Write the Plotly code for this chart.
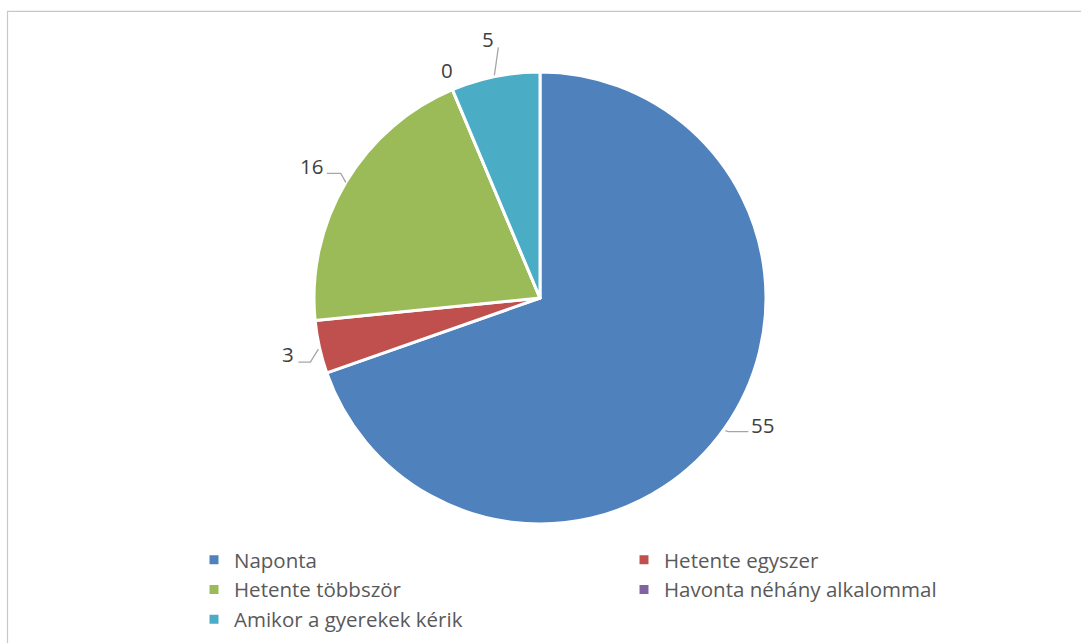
import numpy as np
import plotly.graph_objects as go

# Survey answers and counts
categories = ["Naponta", "Hetente egyszer", "Hetente többször",
              "Havonta néhány alkalommal", "Amikor a gyerekek kérik"]
counts = [55, 3, 16, 0, 5]
colors = ["#4F81BD", "#C0504D", "#9BBB59", "#8064A2", "#4BACC6"]

W, H = 1081, 643
CX, CY, R = 540, 298, 226  # pie centre and radius in pixels

# label placement relative to the slice edge point (pixels, y down)
label_offsets = [(38, -4), (-31, 7), (-34, -16), (-5, -20), (-7, -37)]
leader_paths = [
    [(1, 2), (4, 3), (24, 3)],
    [(-1, 2), (-9, 15), (-21, 15)],
    [(0, 0), (-5, -9), (-19, -9)],
    [],
    [(-1, -1), (3, -29)],
]


def px(x):
    return x / W


def py(y):
    return 1 - y / H


fig = go.Figure(go.Pie(
    labels=categories,
    values=counts,
    sort=False,
    direction="clockwise",
    rotation=0,
    marker=dict(colors=colors, line=dict(color="white", width=3)),
    textinfo="none",
    hoverinfo="label+value",
    showlegend=True,
    domain=dict(x=[px(CX - R), px(CX + R)], y=[py(CY + R), py(CY - R)]),
))

# data labels with leader lines, placed at each slice's middle angle
vals = np.array(counts, dtype=float)
ends = np.cumsum(vals) / vals.sum() * 2 * np.pi
starts = ends - vals / vals.sum() * 2 * np.pi
mids = (starts + ends) / 2

shapes = [dict(type="rect", xref="paper", yref="paper",
               x0=px(7.5), x1=1.01, y0=-0.01, y1=py(11.3),
               line=dict(color="#C8C8C8", width=1.2), fillcolor="rgba(0,0,0,0)")]
annotations = []
for v, a, off, path in zip(counts, mids, label_offsets, leader_paths):
    ex = CX + R * np.sin(a)
    ey = CY - R * np.cos(a)
    annotations.append(dict(
        x=px(ex + off[0]), y=py(ey + off[1]), xref="paper", yref="paper",
        text=str(v), showarrow=False, xanchor="center", yanchor="middle",
        font=dict(family="Open Sans", size=20.5, color="#404040"),
    ))
    if path:
        d = "M " + " L ".join(f"{px(ex + dx):.5f},{py(ey + dy):.5f}" for dx, dy in path)
        shapes.append(dict(type="path", xref="paper", yref="paper", path=d,
                           line=dict(color="#A6A6A6", width=1.3)))

fig.update_layout(
    width=W, height=H,
    margin=dict(l=0, r=0, t=0, b=0, autoexpand=False),
    paper_bgcolor="white",
    plot_bgcolor="white",
    font=dict(family="Open Sans", color="#595959"),
    legend=dict(
        orientation="h",
        x=px(194), y=py(540), xanchor="left", yanchor="top",
        entrywidth=385, entrywidthmode="pixels",
        font=dict(family="Open Sans", size=20.5, color="#595959"),
        traceorder="normal",
    ),
    shapes=shapes,
    annotations=annotations,
)

fig.write_html("out.html")
